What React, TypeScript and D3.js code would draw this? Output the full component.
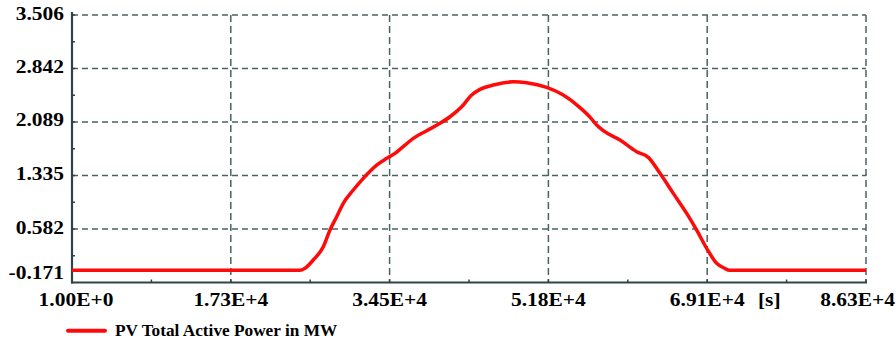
import React from 'react';
import * as d3 from 'd3';

// Simulation time (s) and PV total active power (MW)
const timeSeconds = [
  1, 24793, 25336, 26239, 27326, 28055, 28783, 29501, 30589, 31676,
  33133, 34221, 35123, 36210, 37113, 38570, 40016, 41104, 42376, 43463,
  44366, 45812, 47987, 49444, 51619, 53424, 55240, 56327, 57056, 57774,
  59590, 61406, 62667, 63939, 65386, 66843, 67930, 69018, 70105, 70899,
  71551, 86341,
];
const activePowerMW = [
  0, 0, 0.03, 0.146, 0.333, 0.568, 0.755, 0.944, 1.131, 1.296,
  1.483, 1.577, 1.647, 1.764, 1.859, 1.966, 2.07, 2.163, 2.303, 2.468,
  2.548, 2.609, 2.655, 2.641, 2.576, 2.468, 2.292, 2.158, 2.046, 1.966,
  1.835, 1.67, 1.591, 1.366, 1.084, 0.803, 0.568, 0.31, 0.099, 0.033,
  0, 0,
];

const xTickValues = [1, 17269, 34537, 51805, 69073, 86341];
const xTickLabels = ['1.00E+0', '1.73E+4', '3.45E+4', '5.18E+4', '6.91E+4', '8.63E+4'];
const yTickValues = [-0.171, 0.582, 1.335, 2.089, 2.842, 3.506];
const yTickLabels = ['-0.171', '0.582', '1.335', '2.089', '2.842', '3.506'];
const seriesName = 'PV Total Active Power in MW';
const xUnit = '[s]';

const W = 896;
const H = 342;
const left = 72;
const right = 866;
const top = 15;
const bottom = 282.5;

const axisColor = '#2f4444';
const gridColor = '#4a6361';
const lineColor = '#ff0a0a';
const font = '"Liberation Serif", serif';
const labelStretch = 1.13;

export default function App() {
  const x = d3.scaleLinear().domain([xTickValues[0], xTickValues[xTickValues.length - 1]]).range([left, right]);
  // the top label sits one grid step above 2.842, so the scale is piecewise
  const step = (bottom - top) / 5;
  const y = d3
    .scaleLinear()
    .domain([yTickValues[0], yTickValues[4], yTickValues[5]])
    .range([bottom, top + step, top]);

  const points: [number, number][] = timeSeconds.map((t, i) => [t, activePowerMW[i]]);
  const line = d3
    .line<[number, number]>()
    .x((d) => x(d[0]))
    .y((d) => y(d[1]))
    .curve(d3.curveMonotoneX);

  const xMinor = d3.pairs(xTickValues).map(([a, b]) => (a + b) / 2);
  const yMinor = d3.pairs(yTickValues).map(([a, b]) => (a + b) / 2);

  const label = (key: string, tx: number, ty: number, anchor: string, text: string) => (
    <text
      key={key}
      transform={`translate(${tx},${ty}) scale(${labelStretch},1)`}
      textAnchor={anchor}
      fontSize={19}
      fontWeight="bold"
      fill="#000"
    >
      {text}
    </text>
  );

  return (
    <svg
      width={W}
      height={H}
      style={{ position: 'absolute', left: 0, top: 0, background: '#fff' }}
      fontFamily={font}
    >
      {/* horizontal grid */}
      {yTickValues.slice(1).map((v) => (
        <line
          key={'gy' + v}
          x1={left}
          x2={right}
          y1={y(v)}
          y2={y(v)}
          stroke={gridColor}
          strokeWidth={1.5}
          strokeDasharray="6,4"
        />
      ))}
      {/* vertical grid */}
      {xTickValues.slice(1).map((v) => (
        <line
          key={'gx' + v}
          x1={x(v)}
          x2={x(v)}
          y1={top}
          y2={bottom}
          stroke={gridColor}
          strokeWidth={1.5}
          strokeDasharray="7,4"
        />
      ))}

      {/* axes */}
      <line x1={left} x2={left} y1={12} y2={bottom + 1} stroke={axisColor} strokeWidth={2.2} />
      <line x1={left - 1} x2={right + 1} y1={bottom} y2={bottom} stroke={axisColor} strokeWidth={2.2} />

      {/* ticks */}
      {xTickValues.slice(1).concat(xMinor).map((v) => (
        <line key={'tx' + v} x1={x(v)} x2={x(v)} y1={bottom} y2={bottom - 3} stroke={axisColor} strokeWidth={1.5} />
      ))}
      {yTickValues.slice(1).concat(yMinor).map((v) => (
        <line key={'ty' + v} x1={left} x2={left + 3} y1={y(v)} y2={y(v)} stroke={axisColor} strokeWidth={1.5} />
      ))}

      {/* series */}
      <path d={line(points) ?? ''} fill="none" stroke={lineColor} strokeWidth={3.5} strokeLinejoin="round" />

      {/* y labels */}
      {yTickValues.map((v, i) => label('ly' + v, 64, y(v) + (i === 0 ? -3.5 : 4.5), 'end', yTickLabels[i]))}

      {/* x labels */}
      {xTickValues.map((v, i) => {
        const last = i === xTickValues.length - 1;
        return label(
          'lx' + v,
          last ? W - 1 : x(v) + (i === 0 ? 4 : 0),
          305.5,
          last ? 'end' : 'middle',
          xTickLabels[i]
        );
      })}
      {label('unit', x(xTickValues[4]) + 62, 305.5, 'middle', xUnit)}

      {/* legend */}
      <line x1={68} x2={105} y1={330.7} y2={330.7} stroke={lineColor} strokeWidth={4} strokeLinecap="round" />
      <text transform="translate(115,336) scale(1.04,1)" fontSize={16.6} fontWeight="bold" fill="#000">
        {seriesName}
      </text>
    </svg>
  );
}
